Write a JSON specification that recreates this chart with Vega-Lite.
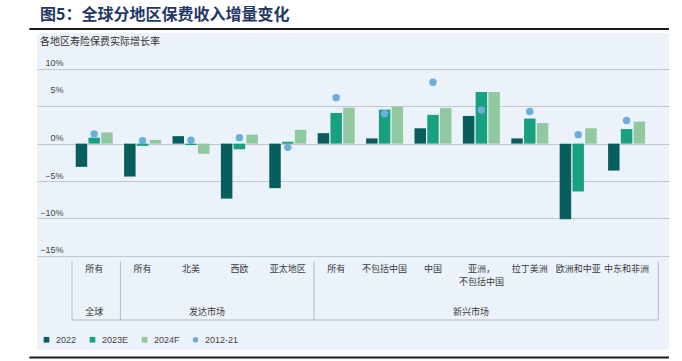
{
  "$schema": "https://vega.github.io/schema/vega-lite/v6.json",
  "width": 632,
  "height": 317,
  "autosize": {"type": "none"},
  "padding": {"left": 37, "top": 33, "right": 13, "bottom": 11},
  "background": "#ffffff",
  "config": {
    "view": {"fill": "#ecf2f9", "stroke": null},
    "font": "Noto Sans CJK SC",
    "legend": {
      "orient": "bottom-left", "direction": "horizontal", "offset": 5, "padding": 0,
      "labelFont": "Liberation Sans", "labelFontSize": 9, "labelColor": "#444444",
      "symbolSize": 32, "columnPadding": 11, "labelOffset": 5, "symbolStrokeWidth": 0
    }
  },
  "title": {
    "text": "图5：全球分地区保费收入增量变化",
    "subtitle": "各地区寿险保费实际增长率",
    "anchor": "start", "frame": "group", "dx": 3, "offset": -19,
    "font": "Noto Sans CJK SC", "fontSize": 16, "fontWeight": "bold", "color": "#1f3864",
    "subtitleFont": "Noto Sans CJK SC", "subtitleFontSize": 10, "subtitleColor": "#333333",
    "subtitlePadding": 14
  },
  "datasets": {
    "main": [
      {"key": "全球|所有", "label": "所有", "series": "2022", "value": -3.1},
      {"key": "全球|所有", "label": "所有", "series": "2023E", "value": 0.8},
      {"key": "全球|所有", "label": "所有", "series": "2024F", "value": 1.5},
      {"key": "全球|所有", "label": "所有", "series": "2012-21", "value": 1.3},
      {"key": "发达|所有", "label": "所有", "series": "2022", "value": -4.4},
      {"key": "发达|所有", "label": "所有", "series": "2023E", "value": -0.3},
      {"key": "发达|所有", "label": "所有", "series": "2024F", "value": 0.5},
      {"key": "发达|所有", "label": "所有", "series": "2012-21", "value": 0.4},
      {"key": "北美", "label": "北美", "series": "2022", "value": 1.0},
      {"key": "北美", "label": "北美", "series": "2023E", "value": -0.2},
      {"key": "北美", "label": "北美", "series": "2024F", "value": -1.35},
      {"key": "北美", "label": "北美", "series": "2012-21", "value": 0.45},
      {"key": "西欧", "label": "西欧", "series": "2022", "value": -7.35},
      {"key": "西欧", "label": "西欧", "series": "2023E", "value": -0.75},
      {"key": "西欧", "label": "西欧", "series": "2024F", "value": 1.2},
      {"key": "西欧", "label": "西欧", "series": "2012-21", "value": 0.8},
      {"key": "亚太地区", "label": "亚太地区", "series": "2022", "value": -5.95},
      {"key": "亚太地区", "label": "亚太地区", "series": "2023E", "value": 0.25},
      {"key": "亚太地区", "label": "亚太地区", "series": "2024F", "value": 1.85},
      {"key": "亚太地区", "label": "亚太地区", "series": "2012-21", "value": -0.5},
      {"key": "新兴|所有", "label": "所有", "series": "2022", "value": 1.4},
      {"key": "新兴|所有", "label": "所有", "series": "2023E", "value": 4.1},
      {"key": "新兴|所有", "label": "所有", "series": "2024F", "value": 4.8},
      {"key": "新兴|所有", "label": "所有", "series": "2012-21", "value": 6.15},
      {"key": "不包括中国", "label": "不包括中国", "series": "2022", "value": 0.7},
      {"key": "不包括中国", "label": "不包括中国", "series": "2023E", "value": 4.55},
      {"key": "不包括中国", "label": "不包括中国", "series": "2024F", "value": 4.95},
      {"key": "不包括中国", "label": "不包括中国", "series": "2012-21", "value": 4.0},
      {"key": "中国", "label": "中国", "series": "2022", "value": 2.05},
      {"key": "中国", "label": "中国", "series": "2023E", "value": 3.85},
      {"key": "中国", "label": "中国", "series": "2024F", "value": 4.75},
      {"key": "中国", "label": "中国", "series": "2012-21", "value": 8.2},
      {"key": "亚洲，不包括中国", "label": "亚洲，\n不包括中国", "series": "2022", "value": 3.7},
      {"key": "亚洲，不包括中国", "label": "亚洲，\n不包括中国", "series": "2023E", "value": 6.9},
      {"key": "亚洲，不包括中国", "label": "亚洲，\n不包括中国", "series": "2024F", "value": 6.9},
      {"key": "亚洲，不包括中国", "label": "亚洲，\n不包括中国", "series": "2012-21", "value": 4.5},
      {"key": "拉丁美洲", "label": "拉丁美洲", "series": "2022", "value": 0.7},
      {"key": "拉丁美洲", "label": "拉丁美洲", "series": "2023E", "value": 3.35},
      {"key": "拉丁美洲", "label": "拉丁美洲", "series": "2024F", "value": 2.75},
      {"key": "拉丁美洲", "label": "拉丁美洲", "series": "2012-21", "value": 4.3},
      {"key": "欧洲和中亚", "label": "欧洲和中亚", "series": "2022", "value": -10.1},
      {"key": "欧洲和中亚", "label": "欧洲和中亚", "series": "2023E", "value": -6.4},
      {"key": "欧洲和中亚", "label": "欧洲和中亚", "series": "2024F", "value": 2.05},
      {"key": "欧洲和中亚", "label": "欧洲和中亚", "series": "2012-21", "value": 1.2},
      {"key": "中东和非洲", "label": "中东和非洲", "series": "2022", "value": -3.6},
      {"key": "中东和非洲", "label": "中东和非洲", "series": "2023E", "value": 1.95},
      {"key": "中东和非洲", "label": "中东和非洲", "series": "2024F", "value": 2.95},
      {"key": "中东和非洲", "label": "中东和非洲", "series": "2012-21", "value": 3.1}
    ],
    "span": [{"key": "全球|所有", "key2": "中东和非洲"}],
    "leftSeps": [{"key": "全球|所有"}, {"key": "发达|所有"}, {"key": "新兴|所有"}],
    "rightSeps": [{"key": "中东和非洲"}],
    "groups": [
      {"key": "全球|所有", "group": "全球"},
      {"key": "北美", "group": "发达市场"},
      {"key": "亚洲，不包括中国", "group": "新兴市场"}
    ]
  },
  "layer": [
    {
      "data": {"name": "main"},
      "transform": [{"filter": "datum.series !== '2012-21'"}],
      "mark": {"type": "bar"},
      "encoding": {
        "x": {
          "field": "key", "type": "nominal", "axis": null,
          "scale": {
            "domain": ["全球|所有", "发达|所有", "北美", "西欧", "亚太地区", "新兴|所有", "不包括中国", "中国", "亚洲，不包括中国", "拉丁美洲", "欧洲和中亚", "中东和非洲"],
            "paddingInner": 0.2355, "paddingOuter": 0.647, "align": 0.618
          }
        },
        "xOffset": {
          "field": "series", "type": "nominal",
          "scale": {"domain": ["2022", "2023E", "2024F"], "paddingInner": 0.1, "paddingOuter": 0}
        },
        "y": {
          "field": "value", "type": "quantitative",
          "scale": {"domain": [-27.59, 14.79], "nice": false},
          "axis": {
            "title": null, "values": [-15, -10, -5, 0, 5, 10],
            "grid": true, "gridColor": "#c3c7cd", "gridWidth": 1,
            "domain": false, "ticks": false,
            "labelAlign": "right", "labelBaseline": "middle", "labelPadding": -26,
            "labelOffset": {"condition": {"test": "datum.value === 5", "value": -17}, "value": -6},
            "labelExpr": "(datum.value < 0 ? '−' : '') + abs(datum.value) + '%'",
            "labelFont": "Liberation Sans", "labelFontSize": 9, "labelColor": "#444444"
          }
        },
        "color": {
          "field": "series", "type": "nominal",
          "scale": {
            "domain": ["2022", "2023E", "2024F", "2012-21"],
            "range": ["#075e5c", "#18a181", "#90c99e", "#6aaedb"]
          },
          "legend": {"title": null}
        }
      }
    },
    {
      "data": {"name": "main"},
      "transform": [{"filter": "datum.series === '2012-21'"}],
      "mark": {"type": "point", "filled": true, "size": 55, "opacity": 1},
      "encoding": {
        "x": {"field": "key", "type": "nominal"},
        "y": {"field": "value", "type": "quantitative"},
        "color": {"field": "series", "type": "nominal", "legend": {"title": null}},
        "shape": {
          "field": "series", "type": "nominal",
          "scale": {
            "domain": ["2022", "2023E", "2024F", "2012-21"],
            "range": ["square", "square", "square", "circle"]
          },
          "legend": {"title": null}
        }
      }
    },
    {
      "data": {"name": "span"},
      "mark": {"type": "rule", "color": "#1a1a1a", "strokeWidth": 2},
      "encoding": {
        "x": {"field": "key", "type": "nominal", "bandPosition": -1.254},
        "x2": {"field": "key2", "bandPosition": 1.646},
        "y": {"datum": 15.32, "type": "quantitative"}
      }
    },
    {
      "data": {"name": "span"},
      "mark": {"type": "rule", "color": "#1a1a1a", "strokeWidth": 2},
      "encoding": {
        "x": {"field": "key", "type": "nominal", "bandPosition": -1.254},
        "x2": {"field": "key2", "bandPosition": 1.646},
        "y": {"datum": -28.6, "type": "quantitative"}
      }
    },
    {
      "data": {"name": "span"},
      "mark": {"type": "rule", "color": "#b5b9c0", "strokeWidth": 1},
      "encoding": {
        "x": {"field": "key", "type": "nominal", "bandPosition": -0.092},
        "x2": {"field": "key2", "bandPosition": 1.357},
        "y": {"datum": -23.58, "type": "quantitative"}
      }
    },
    {
      "data": {"name": "leftSeps"},
      "mark": {"type": "rule", "color": "#b5b9c0", "strokeWidth": 1},
      "encoding": {
        "x": {"field": "key", "type": "nominal", "bandPosition": -0.1},
        "y": {"datum": -15.79, "type": "quantitative"},
        "y2": {"datum": -23.58}
      }
    },
    {
      "data": {"name": "rightSeps"},
      "mark": {"type": "rule", "color": "#b5b9c0", "strokeWidth": 1},
      "encoding": {
        "x": {"field": "key", "type": "nominal", "bandPosition": 1.357},
        "y": {"datum": -15.79, "type": "quantitative"},
        "y2": {"datum": -23.58}
      }
    },
    {
      "data": {"name": "main"},
      "transform": [{"filter": "datum.series === '2022'"}],
      "mark": {"type": "text", "baseline": "alphabetic", "align": "center", "lineBreak": "\n", "lineHeight": 13, "fontSize": 9, "font": "Noto Sans CJK SC", "color": "#3a3a3a"},
      "encoding": {
        "x": {"field": "key", "type": "nominal"},
        "y": {"datum": -17.1, "type": "quantitative"},
        "text": {"field": "label"}
      }
    },
    {
      "data": {"name": "groups"},
      "transform": [{"filter": "datum.group === '全球'"}],
      "mark": {"type": "text", "baseline": "middle", "align": "center", "fontSize": 9, "font": "Noto Sans CJK SC", "color": "#3a3a3a"},
      "encoding": {
        "x": {"field": "key", "type": "nominal", "bandPosition": 0.5},
        "y": {"datum": -22.48, "type": "quantitative"},
        "text": {"field": "group"}
      }
    },
    {
      "data": {"name": "groups"},
      "transform": [{"filter": "datum.group === '发达市场'"}],
      "mark": {"type": "text", "baseline": "middle", "align": "center", "fontSize": 9, "font": "Noto Sans CJK SC", "color": "#3a3a3a"},
      "encoding": {
        "x": {"field": "key", "type": "nominal", "bandPosition": 0.93},
        "y": {"datum": -22.48, "type": "quantitative"},
        "text": {"field": "group"}
      }
    },
    {
      "data": {"name": "groups"},
      "transform": [{"filter": "datum.group === '新兴市场'"}],
      "mark": {"type": "text", "baseline": "middle", "align": "center", "fontSize": 9, "font": "Noto Sans CJK SC", "color": "#3a3a3a"},
      "encoding": {
        "x": {"field": "key", "type": "nominal", "bandPosition": 0.22},
        "y": {"datum": -22.48, "type": "quantitative"},
        "text": {"field": "group"}
      }
    }
  ]
}
